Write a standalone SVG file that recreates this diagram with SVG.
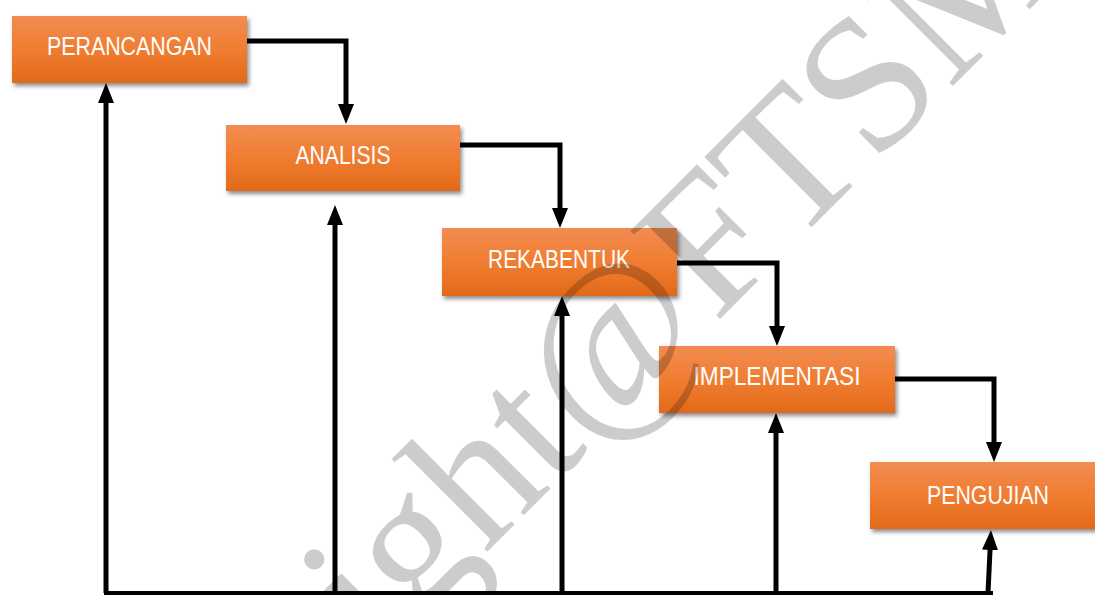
<svg xmlns="http://www.w3.org/2000/svg" width="1095" height="595" viewBox="0 0 1095 595">
  <style>
    .box { fill: url(#orangeFill); filter: url(#boxShadow); }
    .label { font-family: "Liberation Sans", Arial, sans-serif; font-size: 25px; fill: #ffffff; text-anchor: middle; }
    .wire { fill: none; stroke: #000000; stroke-width: 5; stroke-linejoin: miter; }
    .base { fill: none; stroke: #000000; stroke-width: 4; }
    .mark { font-family: "Liberation Serif", "Times New Roman", serif; font-size: 192px; fill: #000000; fill-opacity: 0.2; }
  </style>
  <defs>
    <linearGradient id="orangeFill" x1="0" y1="0" x2="0" y2="1">
      <stop offset="0" stop-color="#F28C52"/>
      <stop offset="0.5" stop-color="#F07D31"/>
      <stop offset="1" stop-color="#E26A19"/>
    </linearGradient>
    <filter id="boxShadow" x="-10%" y="-20%" width="125%" height="150%">
      <feDropShadow dx="2" dy="3" stdDeviation="2" flood-color="#000000" flood-opacity="0.45"/>
    </filter>
    <marker id="head" markerUnits="userSpaceOnUse" markerWidth="20" markerHeight="16" refX="8" refY="8" orient="auto">
      <path d="M0,0 L20,8 L0,16 Z" fill="#000000"/>
    </marker>
  </defs>

  <!-- process stages -->
  <g id="perancangan">
    <rect class="box" x="12" y="16" width="235" height="67"/>
    <text class="label" x="129.5" y="55" textLength="165" lengthAdjust="spacingAndGlyphs">PERANCANGAN</text>
  </g>
  <g id="analisis">
    <rect class="box" x="226" y="125" width="234" height="66"/>
    <text class="label" x="343" y="164" textLength="95" lengthAdjust="spacingAndGlyphs">ANALISIS</text>
  </g>
  <g id="rekabentuk">
    <rect class="box" x="442" y="228" width="235" height="68"/>
    <text class="label" x="559" y="268" textLength="142" lengthAdjust="spacingAndGlyphs">REKABENTUK</text>
  </g>
  <g id="implementasi">
    <rect class="box" x="659" y="346" width="236" height="67"/>
    <text class="label" x="777" y="385" textLength="167" lengthAdjust="spacingAndGlyphs">IMPLEMENTASI</text>
  </g>
  <g id="pengujian">
    <rect class="box" x="870" y="462" width="235" height="67"/>
    <text class="label" x="988" y="504" textLength="122" lengthAdjust="spacingAndGlyphs">PENGUJIAN</text>
  </g>

  <!-- watermark -->
  <text class="mark" transform="translate(39.5,999.5) rotate(-45)">Copyright@FTSM</text>

  <!-- connectors -->
  <g id="connectors">
    <!-- forward flow: right side of a stage down into the next -->
    <path class="wire" d="M247,41 H346 V112" marker-end="url(#head)"/>
    <path class="wire" d="M460,145 H560 V216" marker-end="url(#head)"/>
    <path class="wire" d="M677,263 H777 V334" marker-end="url(#head)"/>
    <path class="wire" d="M895,379 H994 V450" marker-end="url(#head)"/>
    <!-- feedback: common bottom rail back up into each stage -->
    <path class="base" d="M104,593 H993"/>
    <path class="wire" d="M106,593 V95" marker-end="url(#head)"/>
    <path class="wire" d="M335,593 V217" marker-end="url(#head)"/>
    <path class="wire" d="M562,593 V308" marker-end="url(#head)"/>
    <path class="wire" d="M776,593 V425" marker-end="url(#head)"/>
    <path class="wire" d="M988,593 L990.4,542" marker-end="url(#head)"/>
  </g>
</svg>
